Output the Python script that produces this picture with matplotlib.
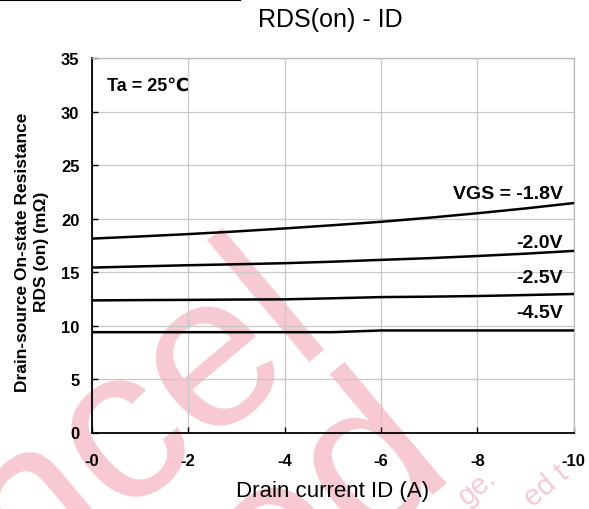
import matplotlib
matplotlib.use('Agg')
import matplotlib.pyplot as plt
from matplotlib.lines import Line2D

plt.rcParams['font.family'] = ['Liberation Sans', 'DejaVu Sans']

# drain current (A) and RDS(on) (mOhm)
drain_current = [0, -1, -2, -3, -4, -5, -6, -7, -8, -9, -10]
rds_vgs_18 = [18.13, 18.33, 18.55, 18.8, 19.08, 19.38, 19.7, 20.08, 20.5, 20.95, 21.45]
rds_vgs_20 = [15.42, 15.53, 15.64, 15.73, 15.83, 15.97, 16.14, 16.3, 16.5, 16.72, 16.98]
rds_vgs_25 = [12.35, 12.38, 12.4, 12.43, 12.45, 12.55, 12.66, 12.7, 12.76, 12.85, 12.95]
rds_vgs_45 = [9.38, 9.38, 9.38, 9.38, 9.38, 9.38, 9.54, 9.54, 9.54, 9.54, 9.54]

curve_labels = ['VGS = -1.8V', '-2.0V', '-2.5V', '-4.5V']
label_y = [21.9, 17.3, 14.1, 10.8]

x_ticks = [0, -2, -4, -6, -8, -10]
x_ticklabels = ['-0', '-2', '-4', '-6', '-8', '-10']
y_ticks = [0, 5, 10, 15, 20, 25, 30, 35]

pink = '#f7c9d2'

fig = plt.figure(figsize=(5.89, 5.10), dpi=100)
ax = fig.add_axes([0.156, 0.150, 0.818, 0.734])

for vals in [rds_vgs_18, rds_vgs_20, rds_vgs_25, rds_vgs_45]:
    ax.plot(drain_current, vals, color='black', lw=1.8, zorder=3)

for txt, yy in zip(curve_labels, label_y):
    ax.text(-9.77, yy, txt, ha='right', va='baseline', fontsize=14,
            fontweight='bold', zorder=4)

ax.text(0.031, 0.927, 'Ta = 25℃', transform=ax.transAxes, ha='left',
        va='center', fontsize=13, fontweight='bold', zorder=4)

ax.set_xlim(0, -10)
ax.set_ylim(0, 35)
ax.set_xticks(x_ticks)
ax.set_xticklabels(x_ticklabels)
ax.set_yticks(y_ticks)
ax.grid(True, color='#c8c8c8', lw=0.9)

for s in ['top', 'right']:
    ax.spines[s].set_color('#b8b8b8')
    ax.spines[s].set_linewidth(0.9)
for s in ['left', 'bottom']:
    ax.spines[s].set_color('black')
    ax.spines[s].set_linewidth(1.3)

ax.tick_params(axis='both', direction='in', length=4, width=1, color='black',
               labelsize=12)
ax.tick_params(axis='x', pad=15)
ax.tick_params(axis='y', pad=9)
for lab in ax.get_xticklabels() + ax.get_yticklabels():
    lab.set_fontweight('bold')

# watermark
wm = dict(transform=fig.transFigure, color=pink, rotation=40,
          rotation_mode='anchor', va='baseline', clip_on=False, zorder=1.5)
ax.text(334 / 589, 178 / 510, 'Cancel', fontsize=158, ha='right', **wm)
ax.text(455 / 589, 46 / 510, 'led', fontsize=158, ha='right', **wm)
ax.text(498 / 589, 30 / 510, 'ge.', fontsize=21, ha='right', **wm)
ax.text(533 / 589, 2 / 510, 'ed t', fontsize=21, ha='left', **wm)

fig.text(330 / 589, 1 - 20 / 510, 'RDS(on) - ID', ha='center', va='center',
         fontsize=18)
fig.text(333 / 589, 1 - 492 / 510, 'Drain current ID (A)', ha='center',
         va='center', fontsize=16)
fig.text(32 / 589, 1 - 252 / 510,
         'Drain-source On-state Resistance\nRDS (on) (mΩ)', rotation=90,
         ha='center', va='center', multialignment='center', fontsize=12.5,
         fontweight='bold', linespacing=1.3)

fig.add_artist(Line2D([0, 240 / 589], [1 - 1 / 510, 1 - 1 / 510],
                      color='black', lw=1.5, transform=fig.transFigure))

fig.savefig('out.png', dpi=100)
